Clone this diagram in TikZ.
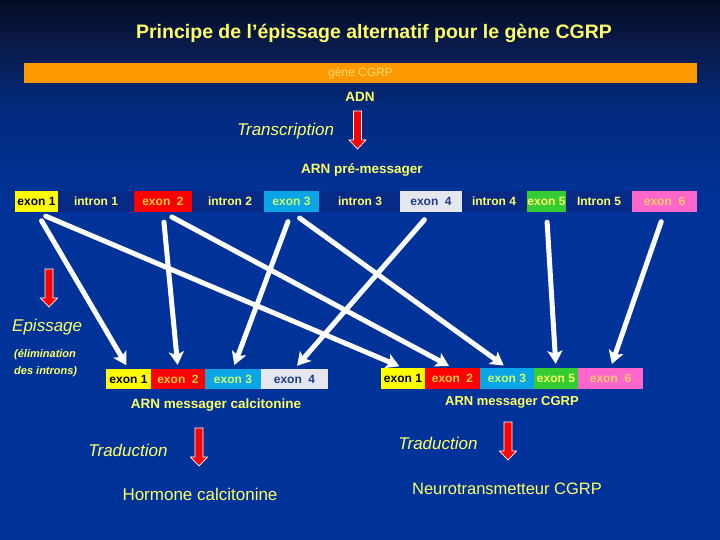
\documentclass[tikz,border=0pt]{standalone}
\usepackage{fontspec}
\setmainfont{Liberation Sans}
\usepackage{xcolor}
\usepackage{tikz}
\usetikzlibrary{arrows.meta}
\definecolor{cgBlue}{HTML}{003399}
\definecolor{cgMid}{HTML}{022A7E}
\definecolor{cgDark}{HTML}{0A1A48}
\definecolor{cgTop}{HTML}{030B24}
\definecolor{cgStrip}{HTML}{062A86}
\definecolor{cgText}{HTML}{FFFF66}
\definecolor{cgOrange}{HTML}{FF9900}
\definecolor{cgGeneText}{HTML}{FFDD77}
\definecolor{cgExYellow}{HTML}{FFFF00}
\definecolor{cgExRed}{HTML}{FF0000}
\definecolor{cgExCyan}{HTML}{0AA5E6}
\definecolor{cgExGrey}{HTML}{E4E7EE}
\definecolor{cgExGreen}{HTML}{33CC33}
\definecolor{cgExPink}{HTML}{FF66CC}
\definecolor{cgOnRed}{HTML}{FFCC33}
\definecolor{cgOnCyan}{HTML}{CCFF66}
\definecolor{cgOnGrey}{HTML}{1F3A8C}
\definecolor{cgOnPink}{HTML}{FFCC66}
\pgfdeclareverticalshading{cgslide}{100bp}{color(0bp)=(cgBlue); color(56bp)=(cgBlue);
  color(65bp)=(cgMid); color(71bp)=(cgDark); color(75bp)=(cgTop); color(100bp)=(cgTop)}
\tikzset{
  cg slide/.style={x=1pt, y=-1pt, line cap=round, line join=round},
  cg label/.style={text=cgText, inner sep=0pt},
  cg exon/.style={minimum height=21pt, inner sep=0pt,
    font=\fontsize{12}{14}\selectfont\bfseries},
  cg intron/.style={cg exon, text=cgText},
  cg splice/.style={-{Stealth[length=13pt,width=15pt,inset=3pt]}, draw=white,
    line width=5pt, shorten <=10pt, shorten >=4pt},
  cg step arrow/.pic={
    \draw[draw=white, fill=cgExRed, line width=0.7pt, line join=miter]
      (-4,0) -- (4,0) -- (4,29) -- (8.5,29) -- (0,38) -- (-8.5,29) -- (-4,29) -- cycle;}
}

\begin{document}
\begin{tikzpicture}[cg slide]
\useasboundingbox (0,0) rectangle (720,540);
\shade[shading=cgslide] (0,0) rectangle (720,540);

% titre et ADN
\node[cg label,font=\fontsize{19.5}{22}\selectfont\bfseries] (title) at (374,33) {Principe de l’épissage alternatif pour le gène CGRP};
\node[fill=cgOrange,minimum width=673pt,minimum height=20pt,inner sep=0pt,
  text=cgGeneText,font=\fontsize{12}{14}\selectfont] (gene) at (360.5,73) {gène CGRP};
\node[cg label,font=\fontsize{13.5}{16}\selectfont\bfseries] (adn) at (360,97) {ADN};
\pic at (357.5,111) {cg step arrow};
\node[cg label,font=\fontsize{17}{20}\selectfont\itshape] (transcr) at (285.5,131) {Transcription};
\node[cg label,font=\fontsize{13.5}{16}\selectfont\bfseries] (premrna) at (362,170) {ARN pré-messager};

% ARN pre-messager
\fill[cgStrip] (15,191) rectangle (697,212);
\node[cg exon,fill=cgExYellow,text=black,minimum width=43pt] (ex1) at (36.5,201.5) {exon 1};
\node[cg intron] (in1) at (96,201.5) {intron 1};
\node[cg exon,fill=cgExRed,text=cgOnRed,minimum width=58pt] (ex2) at (163,201.5) {exon\ \ 2};
\node[cg intron] (in2) at (230,201.5) {intron 2};
\node[cg exon,fill=cgExCyan,text=cgOnCyan,minimum width=55pt] (ex3) at (291.5,201.5) {exon 3};
\node[cg intron] (in3) at (360,201.5) {intron 3};
\node[cg exon,fill=cgExGrey,text=cgOnGrey,minimum width=62pt] (ex4) at (431,201.5) {exon\ \ 4};
\node[cg intron] (in4) at (494,201.5) {intron 4};
\node[cg exon,fill=cgExGreen,text=cgText,minimum width=39pt] (ex5) at (546.5,201.5) {exon 5};
\node[cg intron] (in5) at (599,201.5) {Intron 5};
\node[cg exon,fill=cgExPink,text=cgOnPink,minimum width=65pt] (ex6) at (664.5,201.5) {exon\ \ 6};

% epissage
\pic at (49,269) {cg step arrow};
\node[cg label,anchor=west,font=\fontsize{17}{20}\selectfont\itshape] (episs) at (12,327) {Epissage};
\node[cg label,anchor=west,font=\fontsize{11}{13}\selectfont\bfseries\itshape] (elim1) at (14,355) {(élimination};
\node[cg label,anchor=west,font=\fontsize{11}{13}\selectfont\bfseries\itshape] (elim2) at (14,372) {des introns)};

% ARN messager calcitonine
\node[cg exon,fill=cgExYellow,text=black,minimum width=45pt,minimum height=20pt] (bl1) at (128.5,379) {exon 1};
\node[cg exon,fill=cgExRed,text=cgOnRed,minimum width=54pt,minimum height=20pt] (bl2) at (178,379) {exon\ \ 2};
\node[cg exon,fill=cgExCyan,text=cgOnCyan,minimum width=56pt,minimum height=20pt] (bl3) at (233,379) {exon 3};
\node[cg exon,fill=cgExGrey,text=cgOnGrey,minimum width=67pt,minimum height=20pt] (bl4) at (294.5,379) {exon\ \ 4};

% ARN messager CGRP
\node[cg exon,fill=cgExYellow,text=black,minimum width=44pt] (br1) at (403,378.5) {exon 1};
\node[cg exon,fill=cgExRed,text=cgOnRed,minimum width=55pt] (br2) at (452.5,378.5) {exon\ \ 2};
\node[cg exon,fill=cgExCyan,text=cgOnCyan,minimum width=54pt] (br3) at (507,378.5) {exon 3};
\node[cg exon,fill=cgExGreen,text=cgText,minimum width=44pt] (br5) at (556,378.5) {exon 5};
\node[cg exon,fill=cgExPink,text=cgOnPink,minimum width=65pt] (br6) at (610.5,378.5) {exon\ \ 6};

\draw[cg splice] (ex1.south) -- (bl1.north);
\draw[cg splice] (ex1.south) -- (br1.north);
\draw[cg splice] (ex2.south) -- (bl2.north);
\draw[cg splice] (ex2.south) -- (br2.north);
\draw[cg splice] (ex3.south) -- (bl3.north);
\draw[cg splice] (ex3.south) -- (br3.north);
\draw[cg splice] (ex4.south) -- (bl4.north);
\draw[cg splice] (ex5.south) -- (br5.north);
\draw[cg splice] (ex6.south) -- (br6.north);

% traduction
\node[cg label,font=\fontsize{13.5}{16}\selectfont\bfseries] (mcalc) at (216,405) {ARN messager calcitonine};
\node[cg label,font=\fontsize{13}{16}\selectfont\bfseries] (mcgrp) at (512,402) {ARN messager CGRP};
\node[cg label,font=\fontsize{17}{20}\selectfont\itshape] (trad1) at (128,450) {Traduction};
\node[cg label,font=\fontsize{17}{20}\selectfont\itshape] (trad2) at (438,443) {Traduction};
\pic at (199,428) {cg step arrow};
\pic at (508,422) {cg step arrow};
\node[cg label,font=\fontsize{17}{20}\selectfont] (hormone) at (200,494) {Hormone calcitonine};
\node[cg label,font=\fontsize{16.5}{20}\selectfont] (neuro) at (507,489) {Neurotransmetteur CGRP};
\end{tikzpicture}
\end{document}
